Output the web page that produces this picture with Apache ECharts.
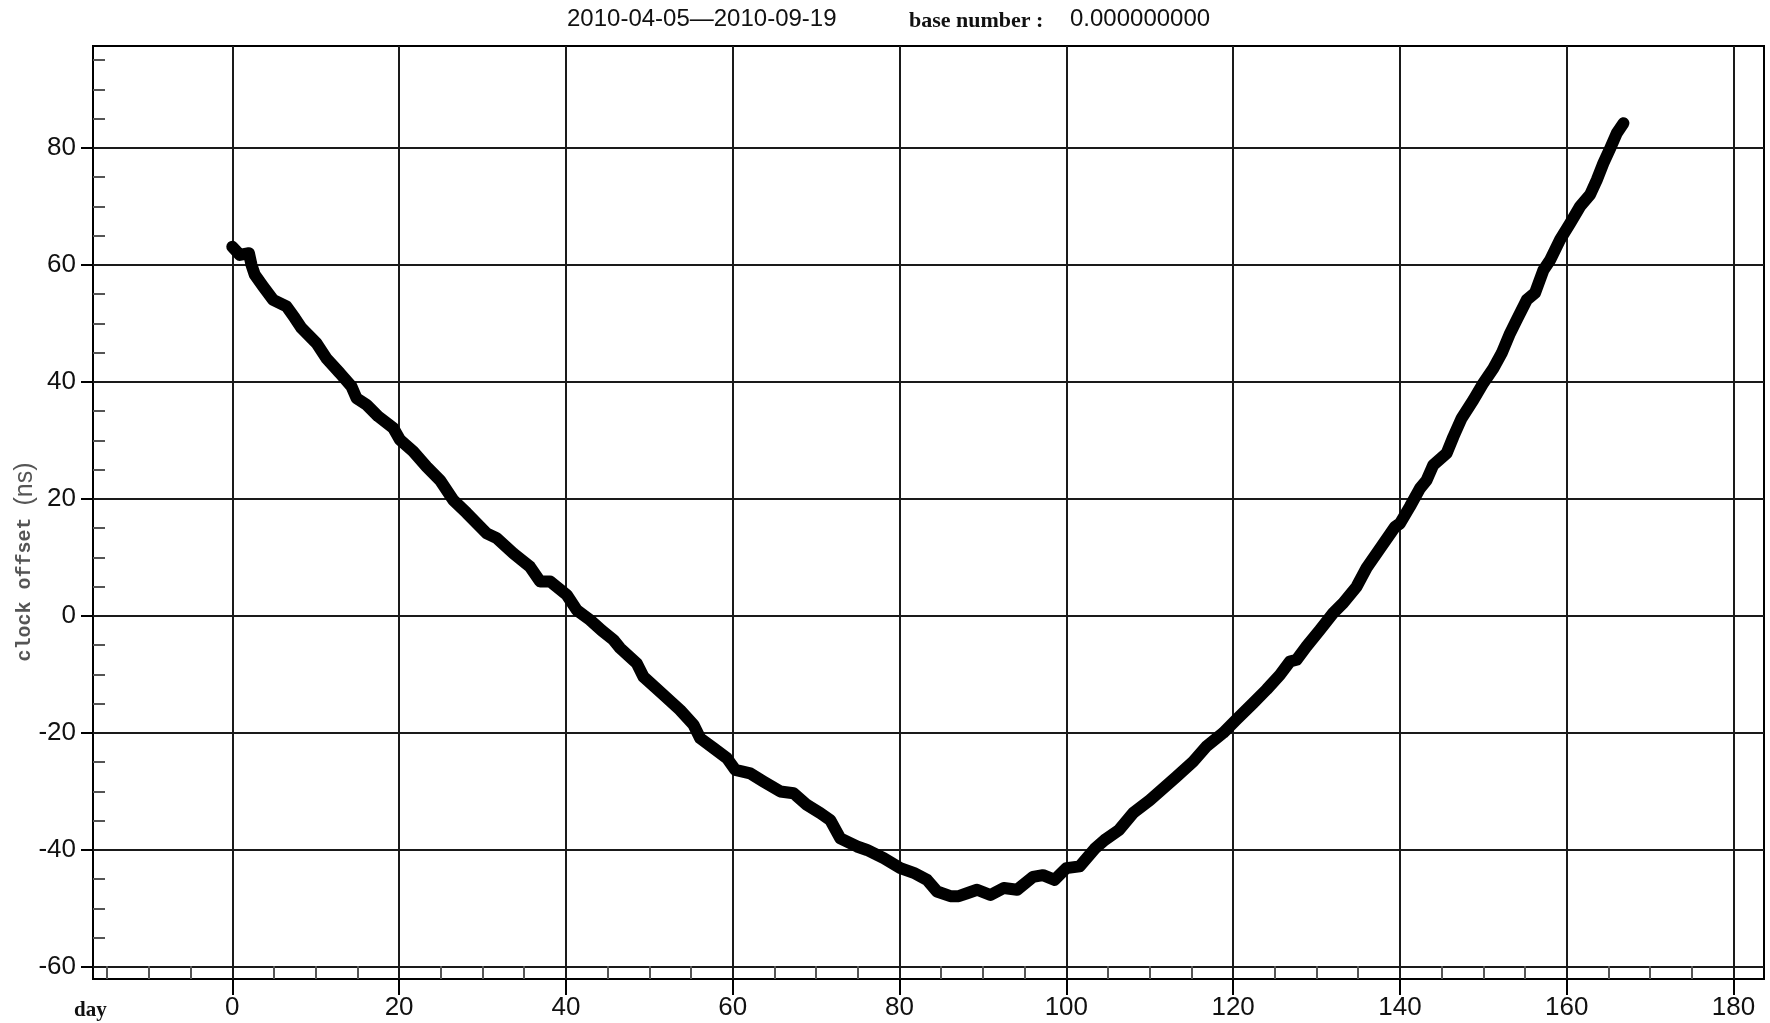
<!DOCTYPE html>
<html>
<head>
<meta charset="utf-8">
<title>clock offset</title>
<script src="https://cdn.jsdelivr.net/npm/echarts@6/dist/echarts.min.js"></script>
<style>
  html, body { margin: 0; padding: 0; background: #fff; }
  #chart { width: 1770px; height: 1023px; }
</style>
</head>
<body>
<div id="chart"></div>
<script>
// Clock offset (ns) against elapsed days, 2010-04-05 to 2010-09-19
const days = [
  0, 0.9, 2.0, 2.3, 2.7, 3.7, 4.9, 6.5, 7.5, 8.3, 10.1, 11.3, 12.9, 14.3, 14.9, 16.1, 17.5, 19.3,
  20.1, 21.7, 23.3, 24.9, 26.5, 28.1, 30.5, 31.7, 33.7, 35.7, 36.9, 38.1, 40.1, 41.3, 42.9, 44.3,
  45.7, 46.5, 48.5, 49.3, 51.7, 53.7, 55.3, 56.1, 57.7, 59.3, 60.3, 62.1, 63.7, 65.7, 67.3, 68.9,
  70.5, 71.7, 72.9, 74.9, 76.1, 78.1, 80.1, 81.7, 83.3, 84.5, 86.1, 87.1, 88.1, 89.3, 90.9, 92.5,
  94.1, 96.0, 97.2, 98.6, 100.0, 101.6, 103.4, 104.6, 106.3, 108.0, 110.0, 111.6, 113.2, 115.2,
  116.8, 118.8, 120.4, 122.4, 124.0, 125.6, 126.8, 127.6, 128.8, 130.4, 132.0, 133.2, 134.8, 136.0,
  137.6, 139.4, 140.0, 141.2, 142.4, 143.2, 144.0, 145.6, 146.4, 147.4, 148.8, 150.0, 151.2, 152.2,
  153.2, 154.0, 155.2, 156.2, 157.2, 158.0, 159.2, 160.4, 161.6, 162.8, 163.6, 164.4, 165.2, 166.0,
  166.8
];
const offsets = [
  63.1, 61.7, 62.0, 60.0, 58.3, 56.3, 54.0, 52.9, 50.9, 49.2, 46.6, 44.0, 41.5, 39.2, 37.2, 36.1, 34.1, 32.1,
  30.1, 28.1, 25.5, 23.2, 19.8, 17.6, 14.1, 13.3, 10.7, 8.4, 5.9, 5.9, 3.6, 1.0, -0.7, -2.5,
  -4.1, -5.5, -8.1, -10.4, -13.5, -16.1, -18.6, -20.9, -22.6, -24.3, -26.3, -26.9, -28.3, -30.0, -30.3, -32.3,
  -33.7, -34.9, -38.0, -39.4, -40.0, -41.4, -43.1, -43.9, -45.1, -47.1, -47.9, -47.9, -47.4, -46.8, -47.7, -46.5,
  -46.8, -44.6, -44.3, -45.1, -43.1, -42.8, -39.8, -38.3, -36.6, -33.7, -31.5, -29.5, -27.5, -24.9,
  -22.3, -20.0, -17.7, -14.9, -12.6, -10.1, -7.8, -7.5, -5.2, -2.4, 0.5, 2.2, 5.0, 8.2,
  11.5, 15.2, 15.8, 18.7, 21.8, 23.2, 25.8, 27.8, 30.6, 33.8, 36.9, 39.8, 42.3, 44.9,
  48.3, 50.6, 54.0, 55.2, 59.1, 60.8, 64.3, 67.1, 70.0, 72.0, 74.5, 77.4, 79.9, 82.5,
  84.2
];

// Axis ranges and tick positions
const xRange = [-16.7, 183.65];
const yRange = [-62.05, 97.4];
const xMajorTicks = [0, 20, 40, 60, 80, 100, 120, 140, 160, 180];
const xMinorTicks = [-15, -10, -5, 5, 10, 15, 25, 30, 35, 45, 50, 55, 65, 70, 75, 85, 90, 95,
  105, 110, 115, 125, 130, 135, 145, 150, 155, 165, 170, 175];
const yMajorTicks = [-60, -40, -20, 0, 20, 40, 60, 80];
const yMinorTicks = [-55, -50, -45, -35, -30, -25, -15, -10, -5, 5, 10, 15, 25, 30, 35, 45, 50, 55,
  65, 70, 75, 85, 90, 95];

const dateSpan = '2010-04-05\u20142010-09-19';
const baseLabel = 'base number :';
const baseValue = '0.000000000';
const xName = 'day';
const yNameMain = 'clock offset ';
const yNameUnit = '(ns)';

const points = days.map((d, i) => [d, offsets[i]]);

const chart = echarts.init(document.getElementById('chart'), null, { renderer: 'canvas' });

const tickFont = { fontFamily: '"Liberation Sans Narrow", "Liberation Sans", Arial, sans-serif', fontSize: 26, color: '#111' };
const hiddenLine = { show: false, onZero: false };

chart.setOption({
  animation: false,
  backgroundColor: '#fff',
  grid: {
    left: 93, right: 6, top: 46, bottom: 44,
    show: true, borderColor: '#000', borderWidth: 2, backgroundColor: '#fff',
    containLabel: false, outerBoundsMode: 'none'
  },
  xAxis: [
    {
      type: 'value', min: xRange[0], max: xRange[1], position: 'bottom',
      axisLine: hiddenLine,
      axisTick: { show: true, customValues: xMajorTicks, length: 16, lineStyle: { color: '#000', width: 2 } },
      axisLabel: Object.assign({ customValues: xMajorTicks, margin: 16 }, tickFont),
      splitLine: { show: true, lineStyle: { color: '#1a1a1a', width: 2 } }
    },
    {
      type: 'value', min: xRange[0], max: xRange[1], position: 'bottom',
      axisLine: hiddenLine,
      axisTick: { show: true, inside: true, customValues: xMinorTicks, length: 13, lineStyle: { color: '#555', width: 2 } },
      axisLabel: { show: false },
      splitLine: { show: false }
    }
  ],
  yAxis: [
    {
      type: 'value', min: yRange[0], max: yRange[1], position: 'left',
      axisLine: hiddenLine,
      axisTick: { show: true, customValues: yMajorTicks, length: 12, lineStyle: { color: '#000', width: 2 } },
      axisLabel: Object.assign({ customValues: yMajorTicks, margin: 17 }, tickFont),
      splitLine: { show: true, lineStyle: { color: '#1a1a1a', width: 2 } }
    },
    {
      type: 'value', min: yRange[0], max: yRange[1], position: 'left',
      axisLine: hiddenLine,
      axisTick: { show: true, inside: true, customValues: yMinorTicks, length: 12, lineStyle: { color: '#555', width: 2 } },
      axisLabel: { show: false },
      splitLine: { show: false }
    }
  ],
  series: [
    {
      type: 'line',
      xAxisIndex: 0, yAxisIndex: 0,
      data: points,
      showSymbol: false,
      smooth: false,
      lineStyle: { color: '#000', width: 12, cap: 'round', join: 'round' },
      z: 5
    }
  ],
  graphic: [
    {
      type: 'text', left: 567, top: 7, silent: true,
      style: { text: dateSpan, font: '24px "Liberation Sans", Arial, sans-serif', fill: '#111' }
    },
    {
      type: 'text', left: 909, top: 10, silent: true,
      style: { text: baseLabel, font: 'bold 22px "Liberation Serif", serif', fill: '#111' }
    },
    {
      type: 'text', left: 1070, top: 7, silent: true,
      style: { text: baseValue, font: '24px "Liberation Sans", Arial, sans-serif', fill: '#111' }
    },
    {
      type: 'text', x: 74, y: 1011, silent: true,
      style: { text: xName, font: 'bold 21px "Liberation Serif", serif', fill: '#111', verticalAlign: 'middle', align: 'left' }
    },
    {
      type: 'text', x: 25, y: 562, rotation: Math.PI / 2, silent: true,
      style: {
        text: '{a|' + yNameMain + '}{b|' + yNameUnit + '}',
        align: 'center', verticalAlign: 'middle',
        rich: {
          a: { font: 'bold 20px "Liberation Mono", monospace', fill: '#555' },
          b: { font: '25px "Liberation Sans", Arial, sans-serif', fill: '#555' }
        }
      }
    }
  ]
});
</script>
</body>
</html>
